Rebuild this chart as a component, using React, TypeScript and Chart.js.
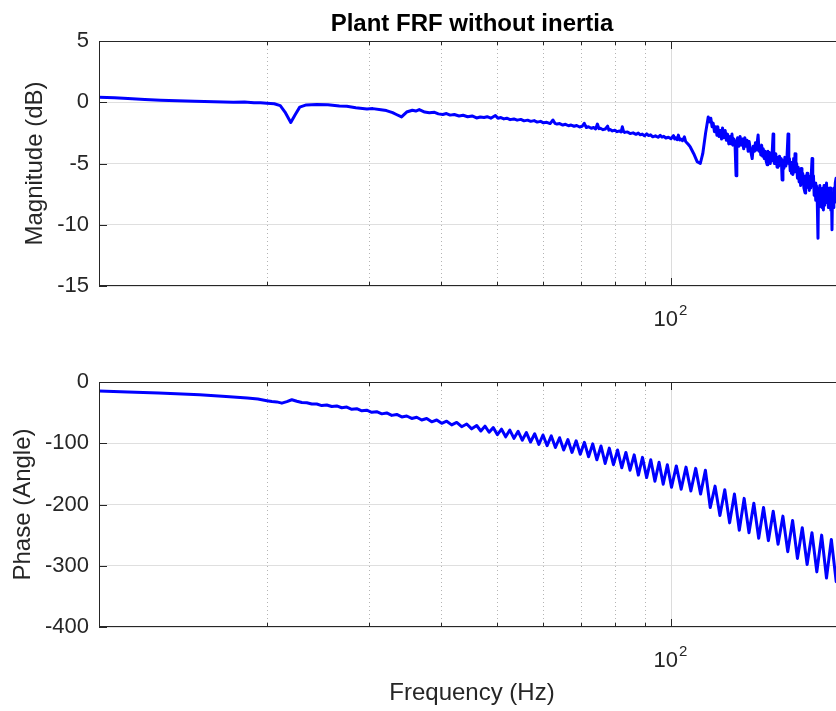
import React, { useEffect, useRef } from "react";
import { Chart, registerables } from "chart.js";

Chart.register(...registerables);

const FONT = '"Liberation Sans", Arial, Helvetica, sans-serif';

const freqTicks = [20, 30, 40, 50, 60, 70, 80, 90, 100];
const freqMin = 10.25;
const freqMax = 200;
const magTicks = [-15, -10, -5, 0, 5];
const phaseTicks = [-400, -300, -200, -100, 0];

const magFreq = [
  10.25, 10.9, 11.5, 12.3, 13.1, 14, 15, 16.2, 17.5, 18.3, 19, 19.5, 20, 20.6, 21.1, 21.5, 22.0, 22.4, 22.8, 23.4,
  24.4, 25.5, 26.7, 27.5, 28.5, 29.8, 30.5, 31.5, 32.2, 33.0, 33.5, 34.2, 34.9, 35.7, 36.2, 36.7,
  37.5, 38.2, 39, 39.6, 40.3, 40.9, 41.5, 42.2, 43, 43.7, 44.5, 45.3, 46.1, 46.8, 47.5, 48.1, 48.8, 49.7, 50.2, 50.8,
  51.4, 52, 52.7, 53.5, 54.2, 55, 55.7, 56.5, 57.2, 58, 58.7, 59.5, 60.2, 61, 61.8, 62.5, 63.0, 63.5, 64.2, 65,
  65.7, 66.5, 67.2, 68, 68.7, 69.5, 70.2, 70.8, 71.4, 72, 72.8, 73.5, 74.1, 74.6, 75.1, 75.5, 76.3, 77, 77.7, 78.1,
  78.5, 79.2, 80, 80.7, 81.5, 82.0, 82.4, 82.8, 83.2, 84.1, 85, 86, 87, 87.8, 88.5, 89.2, 90, 90.8, 91.5, 92.2,
  93, 94, 95, 95.8, 96.5, 97.2, 98, 99, 100, 101, 101.5, 102, 102.5, 103, 103.5, 104, 104.7, 105.5, 106.0, 106.5,
  107.2, 108, 109.5, 111, 112.4, 113.5, 114.8, 116, 116.6, 117.2, 117.8, 118.3, 118.9, 119.5, 120.1, 120.5, 121.1, 121.7, 122.3, 122.8,
  123.4, 124.1, 124.7, 125.3, 125.9, 126.6, 127.1, 127.5, 128.0, 128.5, 129.1, 129.6, 130.0, 130.4, 131.0, 131.7, 132.3, 133, 133.6, 134.2,
  134.8, 135.4, 136.0, 136.5, 137.3, 138.2, 138.8, 139.5, 140.0, 140.5, 141.5, 142.0, 142.5, 143.0, 143.5, 144.0, 144.4, 145.0, 145.5, 146.1,
  146.7, 147.1, 147.5, 148.0, 148.5, 149.0, 149.4, 150.2, 150.6, 151, 151.8, 152.6, 153.1, 153.6, 154.1, 154.6, 155.2, 155.7, 156.2, 156.8,
  157.4, 158, 158.7, 159.4, 159.9, 160.3, 160.8, 161.2, 161.6, 162, 162.5, 163, 163.5, 163.9, 164.5, 165, 165.5, 166, 166.6, 167.2,
  167.6, 168, 168.5, 169, 169.8, 170.6, 171.0, 171.5, 172.0, 172.5, 173.0, 173.5, 174.0, 174.5, 175.0, 175.4, 175.9, 176.4, 176.9, 177.5,
  178.0, 178.5, 179.1, 179.6, 180.0, 180.5, 180.9, 181.3, 181.9, 182.5, 183.0, 183.5, 184.0, 184.5, 185.0, 185.3, 185.8, 186.2, 186.7, 187.2,
  187.6, 188.0, 188.5, 189.0, 189.5, 189.9, 190.3, 190.8, 191.3, 191.8, 192.4, 193, 193.6, 194.3, 195, 196, 197.5,
];
const magDb = [
  0.4, 0.36, 0.3, 0.22, 0.16, 0.12, 0.08, 0.05, 0.0, 0.02, -0.05, -0.04, -0.08, -0.12, -0.28, -0.8, -1.65, -1.0, -0.4, -0.22,
  -0.18, -0.2, -0.3, -0.33, -0.45, -0.55, -0.52, -0.62, -0.68, -0.85, -1.0, -1.2, -0.8, -0.65, -0.72, -0.6,
  -0.8, -0.86, -0.82, -0.95, -1.0, -0.92, -1.05, -1.0, -1.12, -1.06, -1.18, -1.12, -1.28, -1.2, -1.24, -1.18, -1.3, -1.08, -1.3, -1.25,
  -1.36, -1.3, -1.42, -1.36, -1.46, -1.4, -1.52, -1.46, -1.56, -1.5, -1.62, -1.56, -1.68, -1.64, -1.74, -1.45, -1.72, -1.78, -1.74, -1.86,
  -1.8, -1.92, -1.86, -1.96, -1.9, -2.02, -1.96, -1.72, -2.06, -2.0, -2.12, -2.06, -2.18, -1.78, -2.16, -2.12, -2.24, -2.18, -1.95, -2.28,
  -2.22, -2.34, -2.28, -2.4, -2.34, -2.42, -2.0, -2.4, -2.46, -2.42, -2.56, -2.5, -2.62, -2.52, -2.66, -2.6, -2.74, -2.58, -2.72, -2.66,
  -2.82, -2.74, -2.86, -2.7, -2.84, -2.78, -2.92, -2.86, -2.98, -2.72, -3.0, -2.9, -3.06, -2.68, -3.08, -3.0, -3.14, -2.82, -3.2, -3.3,
  -3.45, -3.65, -4.2, -4.85, -5.0, -4.2, -2.5, -1.2, -1.6, -1.3, -2.0, -1.7, -2.4, -2.0, -2.7, -2.0, -2.8, -2.3, -3.0, -2.1,
  -2.9, -2.3, -3.1, -2.6, -3.4, -2.8, -3.4, -2.6, -3.5, -3.0, -3.6, -6.0, -3.2, -2.9, -3.6, -2.8, -3.5, -3.0, -3.8, -2.9,
  -3.6, -3.1, -4.0, -3.2, -3.9, -4.6, -3.6, -4.0, -3.3, -3.9, -2.67, -4.0, -3.6, -4.3, -3.5, -4.4, -3.8, -4.6, -4.0, -4.8,
  -5.1, -4.0, -4.7, -4.1, -5.0, -4.2, -4.8, -2.6, -4.4, -5.0, -4.2, -5.3, -4.5, -5.2, -4.4, -5.0, -4.6, -6.35, -4.8, -5.4,
  -4.5, -5.2, -4.6, -2.6, -5.0, -4.6, -5.6, -4.9, -5.8, -5.0, -5.9, -4.6, -5.7, -4.2, -5.6, -5.0, -6.2, -5.3, -6.5, -5.6,
  -6.8, -5.4, -6.6, -5.8, -7.0, -7.4, -6.0, -7.0, -5.8, -6.9, -6.0, -7.2, -6.2, -7.0, -5.6, -4.6, -6.8, -6.0, -7.6, -6.6,
  -8.0, -6.8, -8.2, -11.1, -7.0, -8.4, -6.8, -8.5, -7.2, -8.6, -7.0, -8.8, -6.8, -8.4, -7.0, -8.2, -6.6, -8.0, -7.0, -8.6,
  -7.2, -8.4, -7.0, -8.8, -7.6, -10.4, -7.4, -8.6, -7.0, -8.2, -6.6, -6.2, -7.8, -6.8, -8.0, -7.2, -8.0,
];

const phaseFreq = [
  10.25, 11.5, 13, 15.3, 17, 18.5, 19.3,
  20.0, 20.4, 20.81, 21.23, 21.66, 22.09, 22.54, 22.99, 23.45, 23.92, 24.4, 24.89, 25.39, 25.9, 26.42, 26.95, 27.5, 28.05, 28.61, 29.19,
  29.77, 30.37, 30.98, 31.61, 32.24, 32.89, 33.55, 34.23, 34.91, 35.61, 36.33, 37.06, 37.8, 38.56, 39.34, 40.13, 40.93, 41.76, 42.6, 43.45,
  44.33, 45.22, 46.13,
  46.9, 47.68, 48.47, 49.28, 50.1, 50.93, 51.78, 52.64, 53.52, 54.41, 55.31, 56.23, 57.17, 58.12, 59.09, 60.07, 61.07, 62.09, 63.12, 64.17,
  65.24, 66.33, 67.43, 68.55, 69.69, 70.85, 72.03, 73.23, 74.45, 75.69, 76.95, 78.23, 79.53, 80.86, 82.2, 83.57, 84.96, 86.38, 87.82, 89.28,
  90.76, 92.27, 93.81, 95.37, 96.96, 98.57, 100.21,
  102.16, 104.15, 106.18, 108.25, 110.36, 112.51, 114.7, 116.93, 119.21, 121.53, 123.9, 126.31, 128.77, 131.28, 133.84, 136.45, 139.11, 141.82,
  144.58, 147.4, 150.27, 153.2, 156.18, 159.22, 162.32, 165.48, 168.7, 171.99, 175.34, 178.76, 182.24, 185.79, 189.41, 193.1, 196.87,
];
const phaseDeg = [
  -14.7, -16.2, -18, -21, -23.8, -26.3, -27.8,
  -30.5, -32, -32.5, -34.5, -32, -29, -31.5, -33.5, -34, -36, -36, -38.5, -37.5, -40, -39, -42, -41, -44.5, -43.5, -47,
  -46, -49.5, -48.5, -52, -50.5, -54.5, -53, -57, -55.5, -59.5, -57.5, -62, -59.5, -65, -62, -67.5, -64, -70, -66, -73,
  -68.5, -76.5, -71,
  -80, -72, -82, -74.5, -86, -77, -89.5, -78.5, -92, -80.5, -95, -82.5, -98, -84.5, -102, -86.5, -104, -88, -107, -91,
  -111, -94, -115, -96, -118, -98.5, -122, -101, -127, -104.5, -133, -108, -135, -111, -140, -115, -144, -119, -152, -123,
  -156, -127, -162, -131, -167, -135, -172,
  -137, -175, -139, -178, -141, -183, -144, -205, -170, -218, -176, -230, -183, -242, -190, -246, -198, -255,
  -205, -259, -211, -265, -219, -277, -226, -288, -238, -298, -246, -310, -250, -320, -257, -326, -262,
];

const matlabAxes = {
  id: "matlabAxes",
  beforeDatasetsDraw(chart: any) {
    const { ctx, chartArea: a } = chart;
    const xs = chart.scales.x;
    ctx.save();
    ctx.lineWidth = 1;
    for (const v of freqTicks) {
      const px = Math.round(xs.getPixelForValue(v)) + 0.5;
      ctx.beginPath();
      if (v === 100) {
        ctx.setLineDash([]);
        ctx.strokeStyle = "#dcdcdc";
      } else {
        ctx.setLineDash([1, 3]);
        ctx.strokeStyle = "#b4b4b4";
      }
      ctx.moveTo(px, a.top);
      ctx.lineTo(px, a.bottom);
      ctx.stroke();
    }
    ctx.restore();
  },
  afterDatasetsDraw(chart: any) {
    const { ctx, chartArea: a } = chart;
    const xs = chart.scales.x;
    const ys = chart.scales.y;
    ctx.save();
    ctx.strokeStyle = "#262626";
    ctx.lineWidth = 1;
    ctx.setLineDash([]);
    ctx.strokeRect(a.left + 0.5, a.top + 0.5, a.right - a.left - 1, a.bottom - a.top - 1);
    ctx.beginPath();
    for (const t of ys.ticks) {
      const py = Math.round(ys.getPixelForValue(t.value)) + 0.5;
      ctx.moveTo(a.left, py);
      ctx.lineTo(a.left + 8, py);
      ctx.moveTo(a.right, py);
      ctx.lineTo(a.right - 8, py);
    }
    for (const v of freqTicks) {
      const px = Math.round(xs.getPixelForValue(v)) + 0.5;
      const len = v === 100 ? 8 : 4;
      ctx.moveTo(px, a.bottom);
      ctx.lineTo(px, a.bottom - len);
      ctx.moveTo(px, a.top);
      ctx.lineTo(px, a.top + len);
    }
    ctx.stroke();
    const px = xs.getPixelForValue(100);
    ctx.fillStyle = "#262626";
    ctx.textAlign = "left";
    ctx.textBaseline = "alphabetic";
    ctx.font = `22px ${FONT}`;
    const wb = ctx.measureText("10").width;
    ctx.font = `15px ${FONT}`;
    const we = ctx.measureText("2").width;
    const x0 = px - (wb + we) / 2 - 1;
    ctx.font = `22px ${FONT}`;
    ctx.fillText("10", x0, a.bottom + 40);
    ctx.font = `15px ${FONT}`;
    ctx.fillText("2", x0 + wb + 1, a.bottom + 29);
    ctx.restore();
  },
};

type PanelProps = {
  freq: number[];
  vals: number[];
  yMin: number;
  yMax: number;
  yTicks: number[];
  yTitle: string;
  yTitlePad: number;
  title?: string;
  xTitle?: string;
  top: number;
  height: number;
  xAxisHeight: number;
  padTop: number;
};

function Panel(p: PanelProps) {
  const ref = useRef<HTMLCanvasElement | null>(null);
  useEffect(() => {
    if (!ref.current) return;
    Chart.defaults.font.family = FONT;
    const chart = new Chart(ref.current, {
      type: "line",
      data: {
        datasets: [
          {
            data: p.freq.map((f, i) => ({ x: f, y: p.vals[i] })),
            borderColor: "#0000ff",
            backgroundColor: "#0000ff",
            borderWidth: 3,
            pointRadius: 0,
            tension: 0,
            fill: false,
            borderJoinStyle: "round",
            borderCapStyle: "round",
          },
        ],
      },
      options: {
        animation: false,
        responsive: false,
        devicePixelRatio: 1,
        events: [],
        layout: { padding: { top: p.padTop, left: 0, right: 0, bottom: 0 } },
        plugins: {
          legend: { display: false },
          tooltip: { enabled: false },
          title: {
            display: !!p.title,
            text: p.title || "",
            fullSize: false,
            color: "#000000",
            font: { size: 24, weight: "bold", family: FONT },
            padding: { top: 10, bottom: 2.2 },
          },
        },
        scales: {
          x: {
            type: "logarithmic",
            min: freqMin,
            max: freqMax,
            afterBuildTicks: (s: any) => {
              s.ticks = freqTicks.map((v) => ({ value: v }));
            },
            ticks: { display: false },
            grid: { display: false },
            border: { display: false },
            title: {
              display: !!p.xTitle,
              text: p.xTitle || "",
              color: "#262626",
              font: { size: 24, family: FONT },
              padding: { top: 0, bottom: 3 },
            },
            afterFit: (s: any) => {
              s.height = p.xAxisHeight;
            },
          },
          y: {
            type: "linear",
            min: p.yMin,
            max: p.yMax,
            afterBuildTicks: (s: any) => {
              s.ticks = p.yTicks.map((v) => ({ value: v }));
            },
            ticks: { color: "#262626", font: { size: 22, family: FONT }, padding: 10 },
            grid: { color: "#dfdfdf", lineWidth: 1, drawTicks: false },
            border: { display: false },
            title: {
              display: true,
              text: p.yTitle,
              color: "#262626",
              font: { size: 24, family: FONT },
              padding: { top: p.yTitlePad, bottom: 0 },
            },
            afterFit: (s: any) => {
              s.width = 99;
            },
          },
        },
      } as any,
      plugins: [matlabAxes as any],
    });
    return () => chart.destroy();
  }, []);
  return (
    <canvas
      ref={ref}
      width={845}
      height={p.height}
      style={{ position: "absolute", left: 0, top: p.top, width: 845, height: p.height }}
    />
  );
}

export default function App() {
  return (
    <div
      style={{
        position: "absolute",
        left: 0,
        top: 0,
        width: 836,
        height: 711,
        overflow: "hidden",
        background: "#ffffff",
      }}
    >
      <Panel
        freq={magFreq}
        vals={magDb}
        yMin={-15}
        yMax={5}
        yTicks={magTicks}
        yTitle="Magnitude (dB)"
        yTitlePad={21}
        title="Plant FRF without inertia"
        top={0}
        height={341}
        xAxisHeight={55}
        padTop={0}
      />
      <Panel
        freq={phaseFreq}
        vals={phaseDeg}
        yMin={-400}
        yMax={0}
        yTicks={phaseTicks}
        yTitle="Phase (Angle)"
        yTitlePad={9}
        xTitle="Frequency (Hz)"
        top={341}
        height={370}
        xAxisHeight={84}
        padTop={41}
      />
    </div>
  );
}
